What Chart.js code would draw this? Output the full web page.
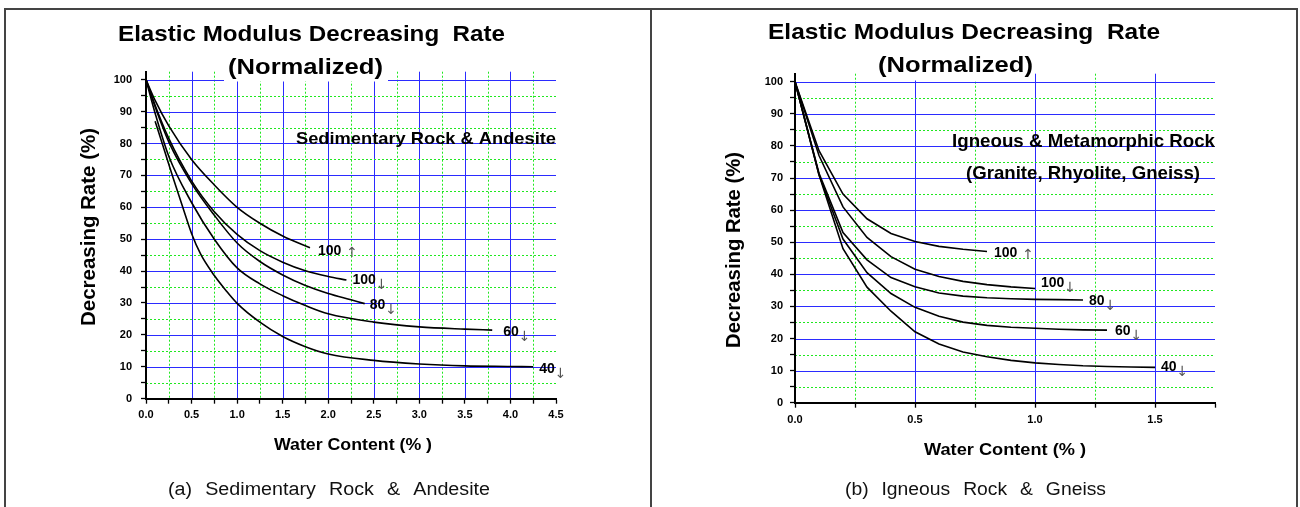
<!DOCTYPE html>
<html>
<head>
<meta charset="utf-8">
<script src="https://cdn.jsdelivr.net/npm/chart.js@4.4.1/dist/chart.umd.min.js"></script>
<style>
  body{margin:0;background:#fff;width:1300px;height:507px;overflow:hidden;position:relative}
  canvas{position:absolute;top:0}
  #frame{position:absolute;left:4px;top:8px;width:1290px;height:520px;border:2px solid #444}
  #divider{position:absolute;left:650px;top:8px;width:2px;height:510px;background:#444}
</style>
</head>
<body>
<div id="frame"></div>
<div id="divider"></div>
<canvas id="sed" width="651" height="507" style="left:0"></canvas>
<canvas id="ign" width="649" height="507" style="left:651px"></canvas>
<script>
// tick labels
const sedXTicks=[0,0.5,1,1.5,2,2.5,3,3.5,4,4.5];
const ignXTicks=[0,0.5,1,1.5];
const yTicks=[0,10,20,30,40,50,60,70,80,90,100];

// curve names (number + arrow)
const curveValues=['100','100','80','60','40'];
const curveArrows=['↑','↓','↓','↓','↓'];

// (a) sedimentary rock & andesite
const sedX100u=[0,0.1,0.25,0.5,0.75,1,1.25,1.5,1.8];
const sedY100u=[100,93.5,85.5,75,67,60,55,51,47.3];
const sedX100d=[0,0.1,0.25,0.5,0.75,1,1.25,1.5,1.75,2,2.2];
const sedY100d=[100,92,81.6,68.3,58.6,51.5,46.4,42.8,40.1,38.3,37.2];
const sedX80=[0,0.1,0.25,0.5,0.75,1,1.25,1.5,1.75,2,2.25,2.4];
const sedY80=[100,91.5,80.5,67.5,57.5,48.8,43,38.8,35.5,33,31,29.8];
const sedX60=[0,0.1,0.25,0.5,0.75,1,1.25,1.5,1.75,2,2.5,3,3.5,3.8];
const sedY60=[100,89.5,76,61.5,50,41,36,32.3,29.2,26.6,24,22.5,21.8,21.5];
const sedX40=[0.1,0.2,0.3,0.4,0.5,0.6,0.75,0.875,1,1.25,1.5,1.75,2,2.5,3,3.5,4,4.25];
const sedY40=[87,78,69,60.3,51.8,45.3,38.6,34,29.9,24,19.5,16.3,14,12,10.9,10.3,10.1,10];

// (b) igneous & metamorphic rock
const ignX100u=[0,0.1,0.2,0.3,0.4,0.5,0.6,0.7,0.8];
const ignY100u=[100,78.5,65,57.3,52.7,50.2,48.7,47.8,47.1];
const ignX100d=[0,0.1,0.2,0.3,0.4,0.5,0.6,0.7,0.8,0.9,1.0];
const ignY100d=[100,77,61,51.5,45.5,41.6,39.3,37.8,36.8,36.1,35.6];
const ignX80=[0,0.1,0.2,0.3,0.4,0.5,0.6,0.7,0.8,0.9,1.0,1.1,1.2];
const ignY80=[100,71.5,53,44.5,39,36.1,34.2,33.2,32.7,32.4,32.2,32.1,32.0];
const ignX60=[0,0.1,0.2,0.3,0.4,0.5,0.6,0.7,0.8,0.9,1.0,1.1,1.2,1.3];
const ignY60=[100,71,51,40.5,34,29.7,26.9,25.1,24.1,23.5,23.2,22.9,22.7,22.6];
const ignX40=[0,0.1,0.2,0.3,0.4,0.5,0.6,0.7,0.8,0.9,1.0,1.1,1.2,1.3,1.4,1.5];
const ignY40=[100,71,48,36,28.5,22.1,18.3,15.8,14.3,13.2,12.4,11.9,11.5,11.3,11.1,11.0];

const BLUE='#2b2bff', GREEN='#1fe81f';
const FONT='"Liberation Sans", Arial, sans-serif';

function isMajor(v,list){ return list.some(m=>Math.abs(m-v)<1e-6); }

// draw text stretched to a given width (w=0 -> natural width)
function put(ctx,str,x,y,font,w,align,rot,gap){
  ctx.save();
  ctx.font=font;
  ctx.wordSpacing=(gap||0)+'px';
  const k=w ? w/ctx.measureText(str).width : 1;
  ctx.translate(x,y);
  if(rot) ctx.rotate(-Math.PI/2);
  ctx.scale(k,1);
  ctx.textAlign=align||'center';
  ctx.textBaseline='alphabetic';
  ctx.fillText(str,0,0);
  ctx.restore();
}

// blue solid major / green dotted minor grid, taken from the scales' ticks
function gridPlugin(xMajor){
  return {
    id:'twoGrid',
    beforeDraw(chart){
      const {ctx,chartArea:a,scales:{x,y}}=chart;
      ctx.save();
      ctx.lineWidth=1;
      x.ticks.forEach(t=>{
        if(t.value<=0 || t.value>=x.max) return;
        const px=Math.round(x.getPixelForValue(t.value))+0.5;
        const major=isMajor(t.value,xMajor);
        ctx.strokeStyle=major?BLUE:GREEN;
        ctx.setLineDash(major?[]:[2,2]);
        ctx.beginPath(); ctx.moveTo(px,a.top); ctx.lineTo(px,a.bottom); ctx.stroke();
      });
      y.ticks.forEach(t=>{
        if(t.value<=0) return;
        const py=Math.round(y.getPixelForValue(t.value))+0.5;
        const major=isMajor(t.value,yTicks);
        ctx.strokeStyle=major?BLUE:GREEN;
        ctx.setLineDash(major?[]:[2,2]);
        ctx.beginPath(); ctx.moveTo(a.left,py); ctx.lineTo(a.right,py); ctx.stroke();
      });
      ctx.restore();
    }
  };
}

function textPlugin(o){
  return {
    id:'panelText',
    afterDraw(chart){
      const {ctx,scales:{x,y}}=chart;
      ctx.save();
      ctx.fillStyle='#fff';
      ctx.fillRect(o.box[0],o.box[1],o.box[2]-o.box[0],o.box[3]-o.box[1]);
      ctx.fillStyle='#000';
      put(ctx,'Elastic Modulus Decreasing  Rate',o.t1[0],o.t1[1],'bold 22px '+FONT,o.t1[2]);
      put(ctx,'(Normalized)',o.t2[0],o.t2[1],'bold 22px '+FONT,o.t2[2]);
      put(ctx,'Decreasing Rate (%)',o.yt[0],o.yt[1],'bold 20px '+FONT,o.yt[2],'center',true);
      put(ctx,'Water Content (% )',o.xt[0],o.xt[1],'bold 17px '+FONT,o.xt[2]);
      // rock type note inside the plot
      o.notes.forEach(n=>{
        put(ctx,n.text,x.getPixelForValue(n.x),y.getPixelForValue(n.y)+n.dy,'bold '+n.size+'px '+FONT,n.w,n.align);
      });
      // curve labels next to the last point of each curve
      chart.data.datasets.forEach((ds,i)=>{
        const last=ds.data[ds.data.length-1];
        const px=x.getPixelForValue(last.x)+o.shift[i][0];
        const py=y.getPixelForValue(last.y)+o.shift[i][1];
        ctx.font='bold 14px '+FONT;
        ctx.textAlign='left';
        ctx.fillStyle='#000';
        ctx.fillText(curveValues[i],px,py);
        const up=curveArrows[i]==='↑';
        const ax=px+ctx.measureText(curveValues[i]).width+(up?5:0);
        ctx.font='14px "DejaVu Sans"';
        ctx.fillStyle='#555';
        ctx.fillText(curveArrows[i],ax,py+(up?2:5));
      });
      ctx.fillStyle='#111';
      put(ctx,o.caption,o.cap[0],o.cap[1],'18px '+FONT,o.cap[2],'center',false,7);
      ctx.restore();
    }
  };
}

function makeChart(id,o){
  const font={family:FONT,size:11,weight:'bold'};
  const grid={drawOnChartArea:false,color:'#000',tickLength:5,tickColor:'#000',tickWidth:1.3};
  return new Chart(document.getElementById(id),{
    type:'line',
    data:{
      datasets:o.series.map(s=>({
        data:s[0].map((v,i)=>({x:v,y:s[1][i]})),
        borderColor:'#000',
        borderWidth:1.6,
        pointRadius:0,
        tension:o.smooth?0.4:0,
        cubicInterpolationMode:o.smooth?'monotone':'default'
      }))
    },
    options:{
      responsive:false,
      animation:false,
      events:[],
      layout:{padding:o.pad},
      plugins:{legend:{display:false},tooltip:{enabled:false}},
      scales:{
        x:{
          type:'linear',min:0,max:o.xMax,
          afterFit:s=>{s.height=o.xH;},
          ticks:{stepSize:0.25,autoSkip:false,maxRotation:0,minRotation:0,padding:o.xPad,font,color:'#000',
            callback:v=>isMajor(v,o.xTicks)?v.toFixed(1):''},
          grid,
          border:{color:'#000',width:2}
        },
        y:{
          type:'linear',min:0,max:102.5,
          afterFit:s=>{s.width=o.yW;},
          afterBuildTicks:s=>{
            const t=[];
            for(let v=0;v<=100;v+=5) t.push({value:v});
            s.ticks=t;
          },
          ticks:{padding:o.yPad,font,color:'#000',callback:v=>isMajor(v,yTicks)?String(v):''},
          grid,
          border:{color:'#000',width:2}
        }
      }
    },
    plugins:[gridPlugin(o.xTicks),textPlugin(o)]
  });
}

makeChart('sed',{
  series:[[sedX100u,sedY100u],[sedX100d,sedY100d],[sedX80,sedY80],[sedX60,sedY60],[sedX40,sedY40]],
  smooth:true,
  xTicks:sedXTicks,xMax:4.5,
  pad:{left:10,right:95,top:71.7,bottom:10},yW:136,xH:98.3,xPad:5,yPad:9,
  box:[224,49,388,81.5],
  t1:[311.5,41,387],t2:[305.5,73.5,155],
  yt:[95,227,198],xt:[353,450,158],
  notes:[{text:'Sedimentary Rock & Andesite',x:4.5,y:80,dy:1,size:17,w:260,align:'right'}],
  shift:[[8,7],[6,4],[5,5],[11,6],[6,6]],
  caption:'(a) Sedimentary Rock & Andesite',cap:[329,495,322]
});

makeChart('ign',{
  series:[[ignX100u,ignY100u],[ignX100d,ignY100d],[ignX80,ignY80],[ignX60,ignY60],[ignX40,ignY40]],
  smooth:false,
  xTicks:ignXTicks,xMax:1.75,
  pad:{left:10,right:85,top:73.7,bottom:10},yW:134,xH:94.3,xPad:6,yPad:7,
  box:[227,49,382,80.5],
  t1:[313,39,392],t2:[304.5,72,155],
  yt:[89,250,196],xt:[354,455,162],
  notes:[
    {text:'Igneous & Metamorphic Rock',x:1.75,y:80,dy:1.5,size:18.5,w:263,align:'right'},
    {text:'(Granite, Rhyolite, Gneiss)',x:1.2,y:70,dy:1,size:18.5,w:234,align:'center'}
  ],
  shift:[[7,5],[6,-1],[6,5],[8,5],[6,4]],
  caption:'(b) Igneous Rock & Gneiss',cap:[324.5,495,261]
});
</script>
</body>
</html>
